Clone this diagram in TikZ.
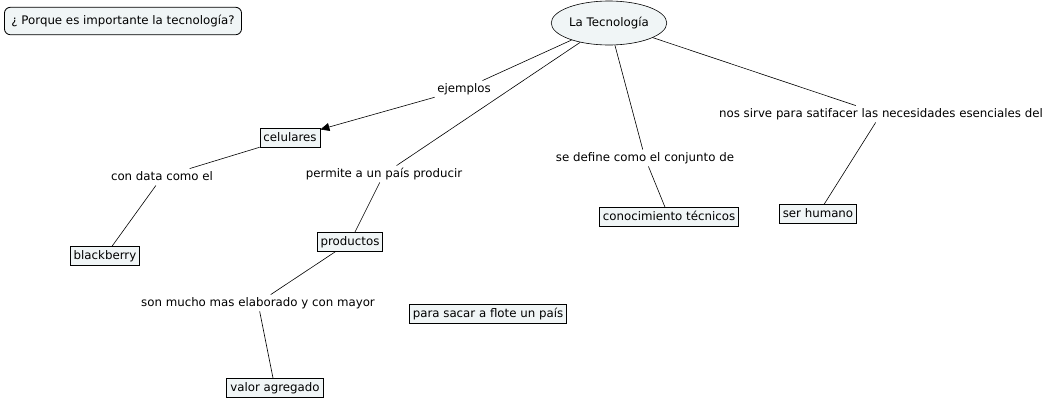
\documentclass[tikz,border=0pt]{standalone}
\usepackage{fontspec}
\setmainfont{DejaVu Sans}
\usetikzlibrary{shapes.geometric,arrows.meta}
\definecolor{boxfill}{RGB}{240,245,246}
\begin{document}
\begin{tikzpicture}[x=1pt,y=-1pt,
  every node/.style={font=\fontsize{11.8}{13}\selectfont,text height=9pt,text depth=2.5pt},
  concept/.style={draw,fill=boxfill,inner xsep=3.5pt,inner ysep=3.5pt,line width=0.8pt},
  lbl/.style={inner sep=2.5pt},
  conn/.style={line width=0.6pt}]
\useasboundingbox (0,0) rectangle (1049,400);
\node[concept,rounded corners=6pt,inner xsep=7pt,inner ysep=8pt] (q) at (123,21) {¿ Porque es importante la tecnología?};
\node[draw,fill=boxfill,ellipse,line width=0.6pt,minimum width=104pt,minimum height=44pt,inner sep=1pt] (t) at (609,23) {La Tecnología};
\node[lbl] (ej) at (464,89) {ejemplos};
\node[concept] (cel) at (290,138) {celulares};
\node[lbl] (cd) at (162,177) {con data como el};
\node[concept] (bb) at (105,256) {blackberry};
\node[lbl] (pp) at (384,174) {permite a un país producir};
\node[concept] (pr) at (350,242) {productos};
\node[lbl] (sm) at (258,303) {son mucho mas elaborado y con mayor};
\node[concept] (va) at (275,388) {valor agregado};
\node[concept] (ps) at (488,314) {para sacar a flote un país};
\node[lbl] (sd) at (645,158) {se define como el conjunto de};
\node[concept] (ct) at (669,217) {conocimiento técnicos};
\node[lbl] (ns) at (881,114) {nos sirve para satifacer las necesidades esenciales del};
\node[concept] (sh) at (818,214) {ser humano};

\draw[conn] (t) -- (ej);
\draw[conn,-{Triangle[length=9pt,width=8pt]}] (ej) -- (cel);
\draw[conn] (cel) -- (cd);
\draw[conn] (cd) -- (bb);
\draw[conn] (t) -- (pp);
\draw[conn] (pp) -- (pr);
\draw[conn] (pr) -- (sm);
\draw[conn] (sm) -- (va);
\draw[conn] (t) -- (sd);
\draw[conn] (sd) -- (ct);
\draw[conn] (t) -- (ns);
\draw[conn] (ns) -- (sh);
\end{tikzpicture}
\end{document}
